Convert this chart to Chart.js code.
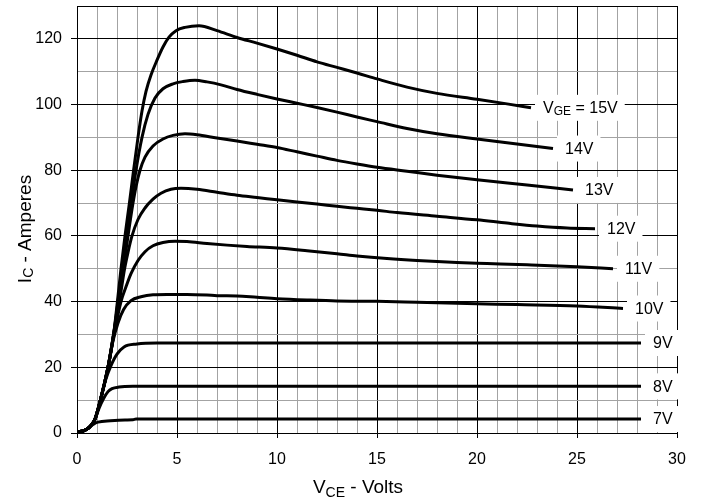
<!DOCTYPE html>
<html>
<head>
<meta charset="utf-8">
<script src="https://cdn.jsdelivr.net/npm/chart.js@4"></script>
<style>
  html, body { margin: 0; padding: 0; background: #fff; }
  #chart { display: block; }
</style>
</head>
<body>
<canvas id="chart" width="704" height="502"></canvas>
<script>
// IGBT output characteristics: Ic vs Vce for several gate voltages
const vce15 = [0, 0.3, 0.5, 0.7, 0.9, 1.17, 1.55, 1.83, 2.02, 2.2, 2.4, 2.62, 2.83, 3.05, 3.25, 3.45, 3.7, 4.0, 4.3, 4.6, 4.95, 5.4, 6.1, 7, 8, 9, 10, 11, 12, 13, 14, 15, 16.5, 18, 20, 21.5, 22.7];
const ic15  = [0.3, 0.6, 1.2, 2.3, 4.2, 10, 20, 30, 40, 50, 60, 70, 80, 90, 98, 104, 109, 113.5, 117.5, 120.5, 122.5, 123.5, 124, 122.5, 120.4, 118.7, 116.9, 115, 113, 111.3, 109.6, 107.8, 105.3, 103.4, 101.6, 100.2, 99];

const vce14 = [0, 0.3, 0.5, 0.7, 0.9, 1.17, 1.55, 1.83, 2.05, 2.27, 2.5, 2.72, 2.95, 3.25, 3.55, 3.9, 4.3, 4.8, 5.3, 5.9, 6.5, 7.2, 8, 9, 10, 11, 12, 13, 14, 15, 16.5, 18, 20, 22, 23.8];
const ic14  = [0.3, 0.6, 1.2, 2.3, 4.2, 10, 20, 30, 40, 50, 60, 70, 80, 90, 97, 102, 104.8, 106.3, 107, 107.4, 106.9, 106, 104.6, 103.1, 101.7, 100.4, 99.1, 97.7, 96.2, 94.8, 92.7, 91.1, 89.5, 88, 86.6];

const vce13 = [0, 0.3, 0.5, 0.7, 0.9, 1.17, 1.55, 1.83, 2.08, 2.32, 2.55, 2.8, 2.95, 3.15, 3.4, 3.8, 4.3, 4.8, 5.4, 6, 7, 8, 9, 10, 11, 12, 13, 14, 15, 16.5, 18, 20, 22.5, 24.8];
const ic13  = [0.3, 0.6, 1.2, 2.3, 4.2, 10, 20, 30, 40, 50, 60, 70, 75, 80, 84, 87.4, 89.5, 90.6, 91.1, 90.8, 89.8, 88.9, 87.9, 86.9, 85.6, 84.3, 83, 81.9, 80.9, 79.7, 78.5, 77.1, 75.5, 74];

const vce12 = [0, 0.3, 0.5, 0.7, 0.9, 1.17, 1.55, 1.83, 2.12, 2.38, 2.55, 2.75, 3.05, 3.4, 3.8, 4.2, 4.7, 5.2, 6, 7, 8, 9, 10, 11, 12, 13, 14, 15, 16, 18, 20, 21.5, 23, 24.5, 25.9];
const ic12  = [0.3, 0.6, 1.2, 2.3, 4.2, 10, 20, 30, 40, 50, 55, 60, 65, 68.5, 71.2, 73, 74.2, 74.5, 74.2, 73.3, 72.4, 71.7, 71, 70.3, 69.7, 69, 68.4, 67.8, 67.1, 66, 64.9, 63.9, 63, 62.4, 62.2];

const vce11 = [0, 0.3, 0.5, 0.7, 0.9, 1.17, 1.55, 1.85, 2.2, 2.45, 2.7, 3.05, 3.4, 3.8, 4.3, 4.9, 5.5, 6.5, 7.5, 8.5, 10, 11.5, 13, 14, 15.5, 17, 19, 20.5, 22.5, 25, 26.8];
const ic11  = [0.3, 0.6, 1.2, 2.3, 4.2, 10, 20, 30, 40, 44.5, 48.5, 52.5, 55.2, 57, 58, 58.4, 58.3, 57.7, 57.2, 56.8, 56.3, 55.5, 54.6, 53.9, 53.1, 52.5, 51.9, 51.6, 51.2, 50.6, 50];

const vce10 = [0, 0.3, 0.5, 0.7, 0.9, 1.17, 1.55, 1.8, 2.05, 2.33, 2.7, 3.2, 3.8, 4.5, 5.5, 6.5, 7, 8, 9, 10, 11.5, 13, 15, 17, 19.5, 22, 25, 27.3];
const ic10  = [0.3, 0.6, 1.2, 2.3, 4.2, 10, 20, 28, 33.5, 37.6, 40.3, 41.5, 42.1, 42.2, 42.2, 42, 41.8, 41.7, 41.3, 40.9, 40.5, 40.2, 40.1, 39.8, 39.4, 39.1, 38.7, 37.9];

const vce9 = [0, 0.3, 0.5, 0.7, 0.9, 1.17, 1.45, 1.7, 2.0, 2.35, 3.0, 4.0, 28.2];
const ic9  = [0.3, 0.6, 1.2, 2.3, 4.2, 10, 16.5, 20.5, 24, 26.2, 27.1, 27.4, 27.4];

const vce8 = [0, 0.3, 0.5, 0.7, 0.9, 1.1, 1.33, 1.55, 1.75, 2.1, 2.8, 28.2];
const ic8  = [0.3, 0.6, 1.2, 2.3, 4.2, 7.5, 10.5, 12.6, 13.5, 14, 14.2, 14.2];

const vce7 = [0, 0.3, 0.5, 0.7, 0.85, 1.05, 1.67, 2.4, 2.8, 2.95, 28.2];
const ic7  = [0.3, 0.6, 1.2, 2.2, 2.8, 3.3, 3.7, 3.95, 4.0, 4.25, 4.25];

const curveX = [vce15, vce14, vce13, vce12, vce11, vce10, vce9, vce8, vce7];
const curveY = [ic15, ic14, ic13, ic12, ic11, ic10, ic9, ic8, ic7];
const curveLabels = ['15V', '14V', '13V', '12V', '11V', '10V', '9V', '8V', '7V'];

const FONT = '"Liberation Sans", Arial, Helvetica, sans-serif';

// draw text made of runs (normal + subscript), left aligned at x
function drawRuns(ctx, runs, x, y) {
  let cx = x;
  runs.forEach(r => {
    ctx.font = r.size + 'px ' + FONT;
    ctx.fillText(r.t, cx, y + (r.dy || 0));
    cx += ctx.measureText(r.t).width;
  });
  return cx - x;
}
function runsWidth(ctx, runs) {
  let w = 0;
  runs.forEach(r => {
    ctx.font = r.size + 'px ' + FONT;
    w += ctx.measureText(r.t).width;
  });
  return w;
}

const curveLabelPlugin = {
  id: 'curveLabels',
  afterDatasetsDraw(chart) {
    const ctx = chart.ctx;
    ctx.save();
    ctx.textBaseline = 'middle';
    chart.data.datasets.forEach((ds, i) => {
      const pts = chart.getDatasetMeta(i).data;
      const last = pts[pts.length - 1];
      const runs = i === 0
        ? [{ t: 'V', size: 16 }, { t: 'GE', size: 12, dy: 3 }, { t: ' = ' + curveLabels[i], size: 16 }]
        : [{ t: curveLabels[i], size: 16 }];
      const x = last.x + 12;
      const w = runsWidth(ctx, runs);
      ctx.fillStyle = '#fff';
      ctx.fillRect(x - 8, last.y - 13, w + 15, 26);
      ctx.fillStyle = '#000';
      drawRuns(ctx, runs, x, last.y + 1);
    });
    ctx.restore();
  }
};

const axisTitlePlugin = {
  id: 'axisTitles',
  afterDraw(chart) {
    const ctx = chart.ctx;
    ctx.save();
    ctx.fillStyle = '#000';
    ctx.textBaseline = 'alphabetic';
    // x title
    const xr = [{ t: 'V', size: 19 }, { t: 'CE', size: 14, dy: 4 }, { t: ' - Volts', size: 19 }];
    const xw = runsWidth(ctx, xr);
    drawRuns(ctx, xr, 358 - xw / 2, 493);
    // y title
    const yr = [{ t: 'I', size: 19 }, { t: 'C', size: 14, dy: 2 }, { t: ' - Amperes', size: 19 }];
    const yw = runsWidth(ctx, yr);
    ctx.translate(31, 229);
    ctx.rotate(-Math.PI / 2);
    drawRuns(ctx, yr, -yw / 2, 0);
    ctx.restore();
  }
};

new Chart(document.getElementById('chart'), {
  type: 'line',
  data: {
    datasets: curveX.map((xs, i) => ({
      label: curveLabels[i],
      data: xs.map((v, k) => ({ x: v, y: curveY[i][k] })),
      borderColor: '#000',
      borderWidth: 3,
      pointRadius: 0,
      fill: false,
      cubicInterpolationMode: 'monotone'
    }))
  },
  options: {
    responsive: false,
    animation: false,
    devicePixelRatio: 1,
    layout: { padding: { left: 0, right: 27, top: 6, bottom: 0 } },
    plugins: { legend: { display: false }, tooltip: { enabled: false } },
    scales: {
      x: {
        type: 'linear',
        min: 0,
        max: 30,
        afterFit: s => { s.height = 69; s.paddingLeft = 0; s.paddingRight = 0; },
        ticks: {
          stepSize: 1,
          autoSkip: false,
          maxRotation: 0,
          padding: 12,
          color: '#000',
          font: { family: FONT, size: 16 },
          callback: v => (v % 5 === 0 ? v : '')
        },
        grid: {
          color: c => (c.tick.value % 5 === 0 ? '#000' : '#a3a3a3'),
          tickColor: c => (c.tick.value % 5 === 0 ? '#000' : 'rgba(0,0,0,0)'),
          tickLength: 5,
          lineWidth: 1
        },
        border: { color: '#000', width: 1 }
      },
      y: {
        type: 'linear',
        min: 0,
        max: 130,
        afterFit: s => { s.width = 77; s.paddingTop = 0; s.paddingBottom = 0; },
        ticks: {
          stepSize: 10,
          autoSkip: false,
          padding: 9,
          color: '#000',
          font: { family: FONT, size: 16 },
          callback: v => (v % 20 === 0 ? v : '')
        },
        grid: {
          color: c => (c.tick.value % 20 === 0 || c.tick.value === 130 ? '#000' : '#a3a3a3'),
          tickColor: c => (c.tick.value % 20 === 0 ? '#000' : 'rgba(0,0,0,0)'),
          tickLength: 6,
          lineWidth: 1
        },
        border: { color: '#000', width: 1 }
      }
    }
  },
  plugins: [curveLabelPlugin, axisTitlePlugin]
});
</script>
</body>
</html>
